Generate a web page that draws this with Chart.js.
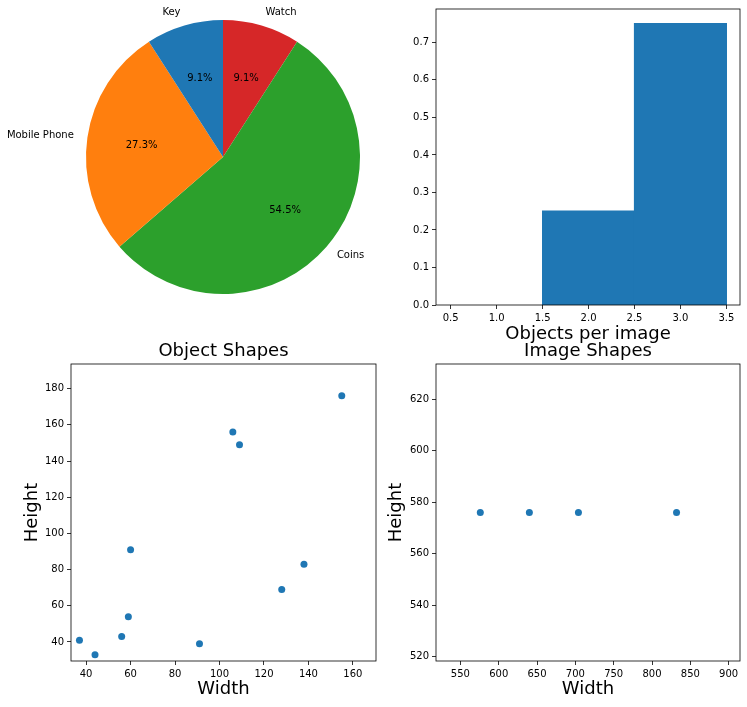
<!DOCTYPE html>
<html>
<head>
<meta charset="utf-8">
<script src="https://cdn.jsdelivr.net/npm/chart.js@4/dist/chart.umd.min.js"></script>
<style>
  body { margin: 0; background: #fff; width: 747px; height: 707px; position: relative; overflow: hidden; }
  canvas { position: absolute; }
</style>
</head>
<body>
<canvas id="pie" style="left:0;top:0" width="380" height="310"></canvas>
<canvas id="hist" style="left:396px;top:0" width="351" height="345"></canvas>
<canvas id="obj" style="left:0;top:338px" width="390" height="369"></canvas>
<canvas id="img" style="left:380px;top:338px" width="367" height="369"></canvas>
<script>
// pie: listed clockwise from 12 o'clock
const pieLabels = ['Watch', 'Coins', 'Mobile Phone', 'Key'];
const pieCounts = [1, 6, 3, 1];
const pieColors = ['#d62728', '#2ca02c', '#ff7f0e', '#1f77b4'];

// objects per image histogram
const binCenters = [1, 2, 3];
const binDensity = [0, 0.25, 0.75];
const histXTicks = [0.5, 1.0, 1.5, 2.0, 2.5, 3.0, 3.5];
const histYTicks = [0, 0.1, 0.2, 0.3, 0.4, 0.5, 0.6, 0.7];

// object shapes
const objWidth = [37, 44, 56, 59, 60, 91, 106, 109, 128, 138, 155];
const objHeight = [41, 33, 43, 54, 91, 39, 156, 149, 69, 83, 176];
const objXTicks = [40, 60, 80, 100, 120, 140, 160];
const objYTicks = [40, 60, 80, 100, 120, 140, 160, 180];

// image shapes
const imgWidth = [576, 640, 704, 832];
const imgHeight = [576, 576, 576, 576];
const imgXTicks = [550, 600, 650, 700, 750, 800, 850, 900];
const imgYTicks = [520, 540, 560, 580, 600, 620];

Chart.defaults.font.family = '"DejaVu Sans", sans-serif';
Chart.defaults.color = '#000';

const frame = {
  id: 'frame',
  afterDraw(c) {
    const a = c.chartArea, ctx = c.ctx;
    ctx.save();
    ctx.strokeStyle = '#000';
    ctx.lineWidth = 0.8;
    ctx.strokeRect(a.left, a.top, a.right - a.left, a.bottom - a.top);
    ctx.restore();
  }
};

const pieText = {
  id: 'pieText',
  afterDatasetsDraw(c) {
    const ctx = c.ctx;
    const total = pieCounts.reduce((s, v) => s + v, 0);
    ctx.save();
    ctx.font = '10px "DejaVu Sans"';
    ctx.fillStyle = '#000';
    ctx.textBaseline = 'middle';
    c.getDatasetMeta(0).data.forEach((arc, i) => {
      const p = arc.getProps(['x', 'y', 'startAngle', 'endAngle', 'outerRadius'], true);
      const mid = (p.startAngle + p.endAngle) / 2;
      const cx = Math.cos(mid), cy = Math.sin(mid);
      ctx.textAlign = 'center';
      ctx.fillText((pieCounts[i] / total * 100).toFixed(1) + '%',
        p.x + cx * p.outerRadius * 0.6, p.y + cy * p.outerRadius * 0.6);
      ctx.textAlign = cx > 0 ? 'left' : 'right';
      ctx.fillText(pieLabels[i], p.x + cx * p.outerRadius * 1.1, p.y + cy * p.outerRadius * 1.1);
    });
    ctx.restore();
  }
};

function scaleOpts(min, max, ticks, fmt, fixed, isX, title, pad) {
  return {
    type: 'linear', min: min, max: max, offset: false,
    afterBuildTicks: s => { s.ticks = ticks.map(v => ({ value: v })); },
    afterFit: s => { if (isX) s.height = fixed; else s.width = fixed; },
    ticks: { font: { size: 10 }, color: '#000', padding: 3, autoSkip: false, maxRotation: 0, callback: v => fmt(v) },
    grid: { drawOnChartArea: false, drawTicks: true, tickLength: 4, color: '#000', lineWidth: 0.8, offset: false },
    border: { display: false },
    title: title ? { display: true, text: title, font: { size: 18 }, color: '#000', padding: pad } : { display: false }
  };
}

const base = { responsive: false, animation: false, devicePixelRatio: 1 };
const noLegend = { legend: { display: false }, tooltip: { enabled: false } };

new Chart(document.getElementById('pie'), {
  type: 'pie',
  data: { labels: pieLabels, datasets: [{ data: pieCounts, backgroundColor: pieColors, borderWidth: 0 }] },
  options: { ...base, layout: { padding: { left: 86, top: 20, right: 20, bottom: 16 } }, plugins: noLegend },
  plugins: [pieText]
});

new Chart(document.getElementById('hist'), {
  type: 'bar',
  data: { datasets: [{
    // empty bins are left undrawn, as in a histogram
    data: binCenters.map((c, i) => ({ x: c, y: binDensity[i] > 0 ? binDensity[i] : null })),
    backgroundColor: '#1f77b4', borderWidth: 0, inflateAmount: 0.6,
    barThickness: 'flex', barPercentage: 1, categoryPercentage: 1
  }] },
  options: {
    ...base,
    layout: { padding: { top: 8, right: 7, left: 0, bottom: 0 } },
    plugins: noLegend,
    scales: {
      x: scaleOpts(0.34, 3.648, histXTicks, v => v.toFixed(1), 40, true, 'Objects per image', { top: 0, bottom: 0 }),
      y: scaleOpts(0, 0.789, histYTicks, v => v.toFixed(1), 40, false)
    }
  },
  plugins: [frame]
});

function scatterChart(id, xs, ys, titleText, rightPad, yWidth, yTitlePad, xr, yr, xt, yt) {
  new Chart(document.getElementById(id), {
    type: 'scatter',
    data: { datasets: [{
      data: xs.map((x, i) => ({ x: x, y: ys[i] })),
      pointRadius: 3.5, pointBackgroundColor: '#1f77b4', pointBorderWidth: 0
    }] },
    options: {
      ...base,
      layout: { padding: { top: 0, right: rightPad, left: 0, bottom: 0 } },
      plugins: {
        ...noLegend,
        title: { display: true, text: titleText, fullSize: false, color: '#000',
                 font: { size: 18, weight: 'normal' }, padding: { top: 3, bottom: 1.4 } }
      },
      scales: {
        x: scaleOpts(xr[0], xr[1], xt, v => String(v), 46, true, 'Width', { top: 0, bottom: 7.2 }),
        y: scaleOpts(yr[0], yr[1], yt, v => String(v), yWidth, false, 'Height', { top: yTitlePad, bottom: 0 })
      }
    },
    plugins: [frame]
  });
}

scatterChart('obj', objWidth, objHeight, 'Object Shapes', 14, 71, 22, [33.2, 170.4], [29.5, 193.6], objXTicks, objYTicks);
scatterChart('img', imgWidth, imgHeight, 'Image Shapes', 7, 56, 6, [518.2, 914.8], [518.4, 633.6], imgXTicks, imgYTicks);
</script>
</body>
</html>
